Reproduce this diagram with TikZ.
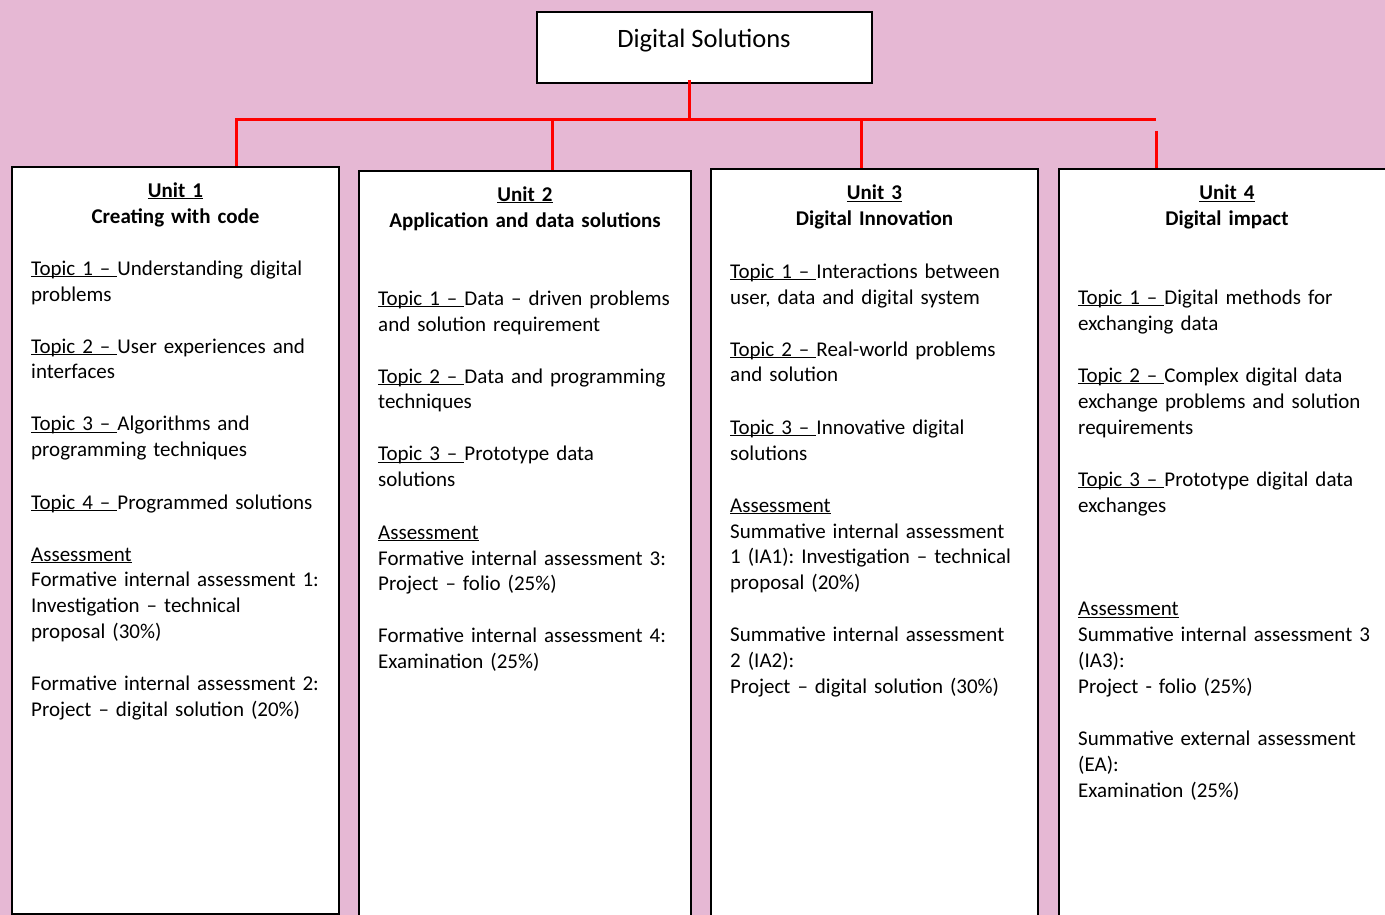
\documentclass[tikz,border=0pt]{standalone}
\usepackage{fontspec}
\setmainfont{Carlito}
\usetikzlibrary{positioning,calc}
\definecolor{bgpink}{RGB}{230,184,212}
\newcommand{\bodyfont}{\fontsize{21pt}{26pt}\selectfont\frenchspacing}
\newcommand{\uln}[1]{\underline{\smash{#1}}}

\begin{document}
\begin{tikzpicture}
[x=1pt, y=-1pt,
unitbox/.style={draw, line width=2pt, fill=white, anchor=north west, inner sep=0pt},
unithead/.style={anchor=base, inner sep=0pt, text width=320pt, align=center, font=\bodyfont\bfseries},
unitbody/.style={anchor=base west, inner sep=0pt, text width=320pt, align=left, font=\bodyfont},
link/.style={draw=red, line width=3pt}]
\fill[bgpink] (0,0) rectangle (1385,915);
\clip (0,0) rectangle (1385,915);

\node[draw, line width=2pt, fill=white, anchor=north, minimum width=335pt,
  text height=36pt, text depth=35pt, inner ysep=0pt,
  font=\fontsize{26.5pt}{32pt}\selectfont] (ds) at (704,11) {Digital Solutions};

\node[unitbox, minimum width=327pt, minimum height=747pt] (u1) at (11,166) {};
\node[unitbox, minimum width=332pt, minimum height=780pt] (u2) at (358,170) {};
\node[unitbox, minimum width=327pt, minimum height=780pt] (u3) at (710,168) {};
\node[unitbox, minimum width=345pt, minimum height=780pt] (u4) at (1058,168) {};

\coordinate (hub) at (689,120);
\coordinate (j1) at (236,120);
\coordinate (j2) at (552,120);
\coordinate (j3) at (861,120);
\coordinate (j4) at (1156,120);
\draw[link] ([yshift=4pt]ds.south -| hub) -- (hub);
\draw[link] (j1 |- u1.north) -- (j1) -- (j4);
\draw[link] (j2) -- (j2 |- u2.north);
\draw[link] (j3) -- (j3 |- u3.north);
\draw[link] ([yshift=-11pt]j4) -- (j4 |- u4.north);

\node[unithead] (h1) at (u1.north |- 0,197) {\uln{Unit 1}\\Creating with code};
\node[unithead] (h2) at (u2.north |- 0,201) {\uln{Unit 2}\\Application and data solutions};
\node[unithead] (h3) at (u3.north |- 0,200) {\uln{Unit 3}\\Digital Innovation};
\node[unithead] (h4) at (1227,200) {\uln{Unit 4}\\Digital impact};

\node[unitbody] (b1) at (31,275) {\uln{Topic 1 – }Understanding digital\\ problems\\[26pt]
  \uln{Topic 2 – }User experiences and\\ interfaces\\[26pt]
  \uln{Topic 3 – }Algorithms and\\ programming techniques\\[26pt]
  \uln{Topic 4 – }Programmed solutions\\[26pt]
  \uln{Assessment}\\ Formative internal assessment 1:\\ Investigation – technical\\ proposal (30\%)\\[26pt]
  Formative internal assessment 2:\\ Project – digital solution (20\%)};

\node[unitbody] (b2) at (378,305) {\uln{Topic 1 – }Data – driven problems\\ and solution requirement\\[26pt]
  \uln{Topic 2 – }Data and programming\\ techniques\\[26pt]
  \uln{Topic 3 – }Prototype data\\ solutions\\[26pt]
  \uln{Assessment}\\ Formative internal assessment 3:\\ Project – folio (25\%)\\[26pt]
  Formative internal assessment 4:\\ Examination (25\%)};

\node[unitbody] (b3) at (730,278) {\uln{Topic 1 – }Interactions between\\ user, data and digital system\\[26pt]
  \uln{Topic 2 – }Real-world problems\\ and solution\\[26pt]
  \uln{Topic 3 – }Innovative digital\\ solutions\\[26pt]
  \uln{Assessment}\\ Summative internal assessment\\ 1 (IA1): Investigation – technical\\ proposal (20\%)\\[26pt]
  Summative internal assessment\\ 2 (IA2):\\ Project – digital solution (30\%)};

\node[unitbody] (b4) at (1078,304) {\uln{Topic 1 – }Digital methods for\\ exchanging data\\[26pt]
  \uln{Topic 2 – }Complex digital data\\ exchange problems and solution\\ requirements\\[26pt]
  \uln{Topic 3 – }Prototype digital data\\ exchanges\\[78pt]
  \uln{Assessment}\\ Summative internal assessment 3\\ (IA3):\\ Project - folio (25\%)\\[26pt]
  Summative external assessment\\ (EA):\\ Examination (25\%)};
\end{tikzpicture}
\end{document}
